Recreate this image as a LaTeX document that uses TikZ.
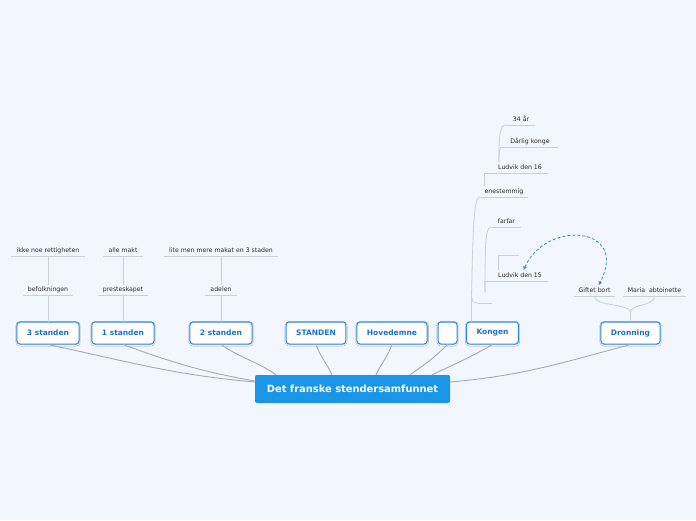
\documentclass[tikz,border=0pt]{standalone}
\usepackage{fontspec}
\setmainfont{DejaVu Sans}
\usepackage{tikz}
\usetikzlibrary{positioning, arrows.meta, shadows.blur}
\definecolor{paper}{HTML}{F2F6FE}
\definecolor{hubblue}{HTML}{1B95E5}
\definecolor{topicline}{HTML}{2E86DE}
\definecolor{topictext}{HTML}{1A72D0}
\definecolor{spokegray}{HTML}{A9A9B1}
\definecolor{twiggray}{HTML}{CBCFD9}
\definecolor{leafink}{HTML}{2B2B2B}
\definecolor{assocblue}{HTML}{3D8DE6}
\tikzset{
  hub/.style     = {rectangle, rounded corners=2pt, fill=hubblue, text=white,
                    font=\bfseries\fontsize{9.9}{12}\selectfont,
                    minimum width=195pt, minimum height=28pt, inner xsep=0pt},
  topic/.style   = {rectangle, rounded corners=3pt, draw=topicline, line width=1pt,
                    fill=white, text=topictext, font=\bfseries\fontsize{7.5}{9}\selectfont,
                    minimum height=22pt, minimum width=19pt, inner xsep=10pt,
                    blur shadow={shadow xshift=0pt, shadow yshift=-0.8pt,
                    shadow blur radius=1.2pt, shadow opacity=12}},
  leafline/.style= {draw=twiggray, line width=0.8pt},
  leaf/.style    = {font=\fontsize{6.2}{7}\selectfont, text=leafink,
                    inner xsep=0pt, inner ysep=2pt, text height=4.8pt, text depth=1.4pt,
                    minimum width=#1,
                    append after command={(\tikzlastnode.south west)
                      edge[leafline] (\tikzlastnode.south east)}},
  spoke/.style   = {draw=spokegray, line width=0.9pt},
  twig/.style    = {draw=twiggray, line width=0.8pt},
  assoc/.style   = {{Latex[length=4pt,width=4pt]}-{Latex[length=4pt,width=4pt]},
                    draw=assocblue, line width=0.8pt, dash pattern=on 3pt off 2pt},
}
\begin{document}
\begin{tikzpicture}[x=1pt, y=-1pt]

  \fill[paper] (0,0) rectangle (696,520);
  \useasboundingbox (0,0) rectangle (696,520);

  % Centre
  \node[hub] (centre) at (352.5,389) {Det franske stendersamfunnet};

  % Main topics
  \node[topic] (s3)      at (48,333)    {3 standen};
  \node[topic] (s1)      at (123,333)   {1 standen};
  \node[topic] (s2)      at (221,333)   {2 standen};
  \node[topic] (standen) at (316,333)   {STANDEN};
  \node[topic] (hoved)   at (392,333)   {Hovedemne};
  \node[topic, inner xsep=0pt] (blank) at (447.5,333) {};
  \node[topic] (kongen)  at (492.5,333) {Kongen};
  \node[topic] (dronning) at (630.5,333) {Dronning};

  % Leaves above the standen
  \node[leaf=50,  above=26pt of s3]      (befolk) {befolkningen};
  \node[leaf=73,  above=29pt of befolk]  (ikke)   {ikke noe rettigheten};
  \node[leaf=50,  above=26pt of s1]      (preste) {presteskapet};
  \node[leaf=40,  above=29pt of preste]  (makt)   {alle makt};
  \node[leaf=31,  above=26pt of s2]      (adel)   {adelen};
  \node[leaf=114, above=29pt of adel]    (lite)   {lite men mere makat en 3 staden};

  % Kongen branch
  \node[leaf=14, anchor=south]  (kempty)    at (485,303)   {};
  \node[leaf=29, anchor=south]  (farfar)    at (506.5,227) {farfar};
  \node[leaf=63, anchor=south]  (ludvik15)  at (516.5,281) {\hspace{7pt}Ludvik den 15};
  \node[leaf=20, anchor=south]  (l15empty)  at (509,255)   {};
  \node[leaf=48, anchor=south]  (enest)     at (504,197)   {enestemmig};
  \node[leaf=63, anchor=south]  (ludvik16)  at (516.5,173) {\hspace{7pt}Ludvik den 16};
  \node[leaf=28, anchor=south]  (aar34)     at (521,125)   {34 år};
  \node[leaf=56, anchor=south]  (darlig)    at (530,147)   {Dårlig konge};

  % Dronning branch
  \node[leaf=41, anchor=south]  (giftet)    at (594.5,296) {Giftet bort};
  \node[leaf=63, anchor=south]  (maria)     at (654.5,296) {Maria~ abtoinette};

  % Spokes to the centre
  \draw[spoke] (s3.south)       to[out=-12,in=175] ([yshift=7pt]centre.west);
  \draw[spoke] (s1.south)       to[out=-20,in=170] ([yshift=8pt]centre.west);
  \draw[spoke] (s2.south)       to[out=-35,in=145] ([xshift=-76.5pt]centre.north);
  \draw[spoke] (standen.south)  to[out=-70,in=115] ([xshift=-20.5pt]centre.north);
  \draw[spoke] (hoved.south)    to[out=-110,in=65] ([xshift=23.5pt]centre.north);
  \draw[spoke] (blank.south)    to[out=-135,in=35] ([xshift=57.5pt]centre.north);
  \draw[spoke] (kongen.south)   to[out=-150,in=25] ([xshift=79.5pt]centre.north);
  \draw[spoke] (dronning.south) to[out=-165,in=5]  ([yshift=7pt]centre.east);

  % Twigs of the standen
  \draw[twig] (s3.north)     -- (befolk.south);
  \draw[twig] (befolk.north) -- (ikke.south);
  \draw[twig] (s1.north)     -- (preste.south);
  \draw[twig] (preste.north) -- (makt.south);
  \draw[twig] (s2.north)     -- (adel.south);
  \draw[twig] (adel.north)   -- (lite.south);

  % Twigs of Kongen
  \coordinate (kfork) at ([xshift=5.5pt, yshift=25pt]kongen.north west);
  \draw[twig] ([xshift=5.5pt]kongen.north west) -- (kfork)
              .. controls (473,225) and (474,197) .. (enest.south west);
  \draw[twig] (kfork) .. controls (472,302) and (474,303) .. (kempty.south west);
  \draw[twig] (kempty.north) .. controls (485,235) and (486,227) .. (farfar.south west);
  \draw[twig] (kempty.north) -- (ludvik15.south west);
  \draw[twig] (ludvik15.north -| l15empty.south west) -- (l15empty.south west);
  \draw[twig] (enest.north -| ludvik16.south west) -- (ludvik16.south west);
  \coordinate (lfork) at ([xshift=14pt]ludvik16.north west);
  \draw[twig] (lfork) .. controls (499,132) and (500,125) .. (aar34.south west);
  \draw[twig] (lfork) .. controls (499,150) and (500,147) .. (darlig.south west);

  % Twigs of Dronning
  \coordinate (dfork) at ([yshift=9pt]dronning.north);
  \draw[twig] (dronning.north) -- (dfork)
              .. controls (630.5,303) and (594.5,307) .. (giftet.south);
  \draw[twig] (dfork) .. controls (630.5,303) and (654.5,307) .. (maria.south);

  % Relation
  \draw[assoc] ([xshift=7pt]ludvik15.north)
               .. controls (545,220) and (630,225) .. ([xshift=4pt]giftet.north);

\end{tikzpicture}
\end{document}
